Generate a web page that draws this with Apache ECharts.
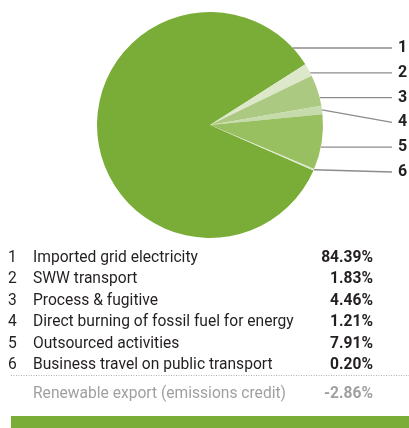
<!DOCTYPE html>
<html>
<head>
<meta charset="utf-8">
<script src="https://cdn.jsdelivr.net/npm/echarts@6/dist/echarts.min.js"></script>
<style>
  html, body { margin: 0; padding: 0; background: #fff; }
  #chart { width: 409px; height: 428px; }
</style>
</head>
<body>
<div id="chart"></div>
<script>
// Emission sources and their share of the total footprint (%)
var sourceNumbers = ['1', '2', '3', '4', '5', '6'];
var sourceNames = [
  'Imported grid electricity',
  'SWW transport',
  'Process & fugitive',
  'Direct burning of fossil fuel for energy',
  'Outsourced activities',
  'Business travel on public transport'
];
var sourceShares = [84.39, 1.83, 4.46, 1.21, 7.91, 0.20];
var creditName = 'Renewable export (emissions credit)';
var creditShare = -2.86;

var sliceColors = ['#7aad37', '#dde8cb', '#abc981', '#c6dbab', '#99c060', '#dbe7c8'];

var CX = 210, CY = 125, R = 113;
var START_ANGLE = 336.3;
var LABEL_TOP = 48, LABEL_STEP = 24.8, LINE_END = 392, LABEL_X = 398;
var FONT = 'Roboto, "DejaVu Sans", sans-serif';
var TEXT_SIZE = '15.6px ';
var TEXT_DARK = '#231f20';
var TEXT_GREY = '#a0a0a0';

// angular extent of each slice (degrees, counter-clockwise from 3 o'clock)
var total = sourceShares.reduce(function (a, b) { return a + b; }, 0);
var sliceRanges = [];
(function () {
  var a = START_ANGLE;
  sourceShares.forEach(function (v) {
    var span = v / total * 360;
    sliceRanges.push([a - span, a]);
    a -= span;
  });
})();

function norm(a) { a = a % 360; return a < 0 ? a + 360 : a; }
function inSlice(angle, range) {
  var lo = norm(range[0]), span = range[1] - range[0];
  return norm(angle - lo) <= span;
}

// leader line: horizontal where the label row crosses its own slice,
// otherwise from the middle of the slice's arc straight to the label
function leaderLine(i) {
  var ly = LABEL_TOP + i * LABEL_STEP;
  var dy = ly - CY;
  if (Math.abs(dy) < R) {
    var ex = CX + Math.sqrt(R * R - dy * dy);
    var ang = Math.atan2(-dy, ex - CX) * 180 / Math.PI;
    if (inSlice(ang, sliceRanges[i])) {
      return { y: ly, pts: [[ex, ly], [ex, ly], [LINE_END, ly]] };
    }
  }
  var mid = (sliceRanges[i][0] + sliceRanges[i][1]) / 2 * Math.PI / 180;
  var mx = CX + R * Math.cos(mid), my = CY - R * Math.sin(mid);
  return { y: ly, pts: [[mx, my], [mx, my], [LINE_END, ly]] };
}

var pieData = sourceShares.map(function (v, i) {
  return { name: sourceNumbers[i], value: v, itemStyle: { color: sliceColors[i] } };
});

// table beneath the pie
var ROW_TOP = 258, ROW_STEP = 21.4;
var graphics = [];
sourceNames.forEach(function (name, i) {
  var y = ROW_TOP + i * ROW_STEP;
  graphics.push({
    type: 'text', x: 8, y: y,
    style: { text: sourceNumbers[i], font: TEXT_SIZE + FONT, fill: TEXT_DARK, textAlign: 'left', textVerticalAlign: 'middle' }
  });
  graphics.push({
    type: 'text', x: 33, y: y,
    style: { text: name, font: TEXT_SIZE + FONT, fill: TEXT_DARK, textAlign: 'left', textVerticalAlign: 'middle' }
  });
  graphics.push({
    type: 'text', x: 373, y: y,
    style: { text: sourceShares[i].toFixed(2) + '%', font: 'bold ' + TEXT_SIZE + FONT, fill: TEXT_DARK, textAlign: 'right', textVerticalAlign: 'middle' }
  });
});
graphics.push({
  type: 'line',
  shape: { x1: 11, y1: 375.5, x2: 409, y2: 375.5 },
  style: { stroke: '#b0b0b0', lineWidth: 1, lineDash: [1, 1.5] }
});
graphics.push({
  type: 'text', x: 33, y: 394,
  style: { text: creditName, font: TEXT_SIZE + FONT, fill: TEXT_GREY, textAlign: 'left', textVerticalAlign: 'middle' }
});
graphics.push({
  type: 'text', x: 373, y: 394,
  style: { text: creditShare.toFixed(2) + '%', font: 'bold ' + TEXT_SIZE + FONT, fill: TEXT_GREY, textAlign: 'right', textVerticalAlign: 'middle' }
});
graphics.push({
  type: 'rect',
  shape: { x: 11, y: 416, width: 398, height: 12 },
  style: { fill: '#7aad37' }
});

var chart = echarts.init(document.getElementById('chart'), null, { renderer: 'canvas' });
chart.setOption({
  animation: false,
  backgroundColor: '#ffffff',
  series: [{
    type: 'pie',
    center: [CX, CY],
    radius: R,
    startAngle: START_ANGLE,
    clockwise: true,
    avoidLabelOverlap: false,
    data: pieData,
    itemStyle: { borderWidth: 0 },
    emphasis: { disabled: true },
    label: {
      show: true,
      formatter: '{b}',
      fontFamily: FONT,
      fontWeight: 'bold',
      fontSize: 16,
      color: TEXT_DARK
    },
    labelLine: {
      show: true,
      lineStyle: { color: '#8c8c8c', width: 1.3 }
    },
    labelLayout: function (params) {
      var l = leaderLine(params.dataIndex);
      return {
        x: LABEL_X,
        y: l.y,
        align: 'left',
        verticalAlign: 'middle',
        labelLinePoints: l.pts
      };
    }
  }],
  graphic: graphics
});
</script>
</body>
</html>
